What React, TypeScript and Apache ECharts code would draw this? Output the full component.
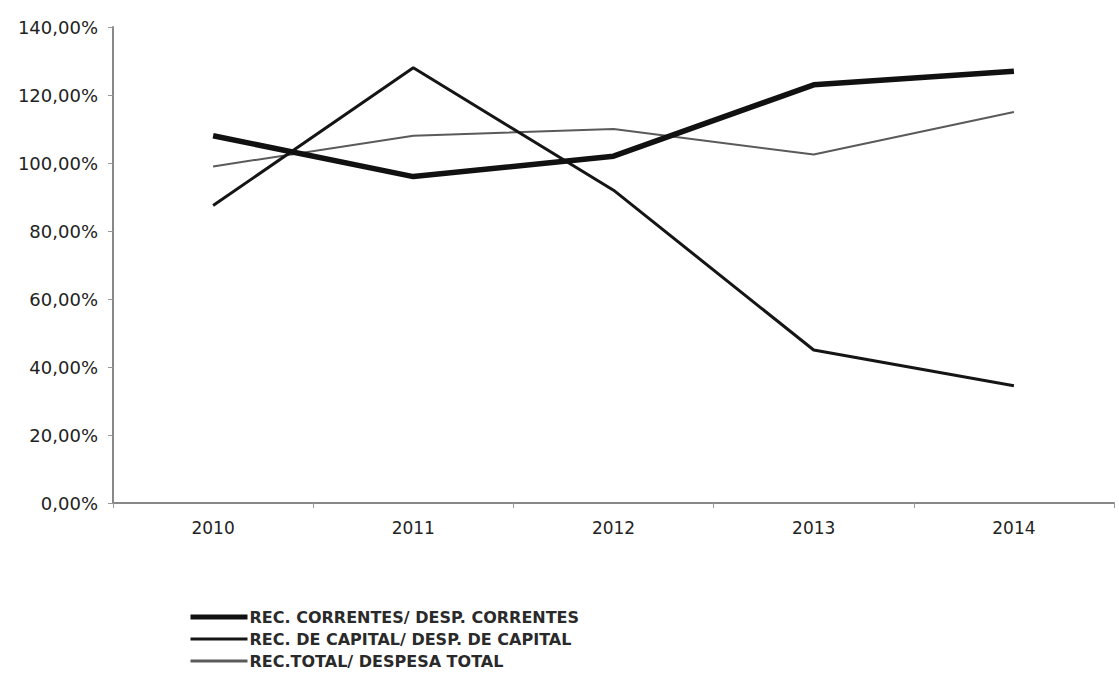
import React, { useEffect, useRef } from "react";
import * as echarts from "echarts";

const categories = ["2010", "2011", "2012", "2013", "2014"];
const seriesNames = [
  "REC. CORRENTES/ DESP. CORRENTES",
  "REC. DE CAPITAL/ DESP. DE CAPITAL",
  "REC.TOTAL/ DESPESA TOTAL",
];
const correntes = [108, 96, 102, 123, 127];
const capital = [87.5, 128, 92, 45, 34.5];
const total = [99, 108, 110, 102.5, 115];
const yTicks = { min: 0, max: 140, interval: 20 };

export default function App() {
  const ref = useRef<HTMLDivElement>(null);
  useEffect(() => {
    if (!ref.current) return;
    const chart = echarts.init(ref.current, undefined, { renderer: "svg" });
    const font = "DejaVu Sans, sans-serif";
    const lineColors = ["#111", "#151515", "#5a5a5a"];
    const lineWidths = [5.5, 3, 2];
    const legendWidths = [5, 3, 3];
    chart.setOption({
      animation: false,
      backgroundColor: "#ffffff",
      grid: { left: 113, right: 5, top: 27, bottom: 170 },
      legend: {
        orient: "vertical",
        left: 188,
        top: 609,
        padding: 0,
        itemWidth: 57,
        itemHeight: 14,
        itemGap: 6,
        itemStyle: { opacity: 0 },
        textStyle: {
          fontFamily: font,
          fontSize: 16,
          fontWeight: "bold",
          color: "#2a2a2a",
          padding: [0, 0, 0, -3],
        },
        data: seriesNames.map((name, i) => ({
          name,
          itemStyle: { opacity: 0 },
          lineStyle: { width: legendWidths[i], color: lineColors[i] },
        })),
      },
      xAxis: {
        type: "category",
        data: categories,
        boundaryGap: true,
        axisLine: { lineStyle: { color: "#888", width: 2 } },
        axisTick: { show: true, length: 5, lineStyle: { color: "#999" } },
        axisLabel: { fontFamily: font, fontSize: 17, color: "#222", margin: 16 },
      },
      yAxis: {
        type: "value",
        min: yTicks.min,
        max: yTicks.max,
        interval: yTicks.interval,
        splitLine: { show: false },
        axisLine: { show: true, lineStyle: { color: "#888", width: 2 } },
        axisTick: { show: true, length: 5, lineStyle: { color: "#999" } },
        axisLabel: {
          fontFamily: font,
          fontSize: 18,
          color: "#222",
          margin: 15,
          formatter: (v: number) => v.toFixed(2).replace(".", ",") + "%",
        },
      },
      series: [correntes, capital, total].map((data, i) => ({
        name: seriesNames[i],
        type: "line",
        data,
        symbol: "none",
        lineStyle: { color: lineColors[i], width: lineWidths[i] },
        itemStyle: { color: lineColors[i] },
        z: 3 - i,
      })),
    });
    return () => chart.dispose();
  }, []);
  return (
    <div
      ref={ref}
      style={{ position: "absolute", left: 0, top: 0, width: 1119, height: 673 }}
    />
  );
}
